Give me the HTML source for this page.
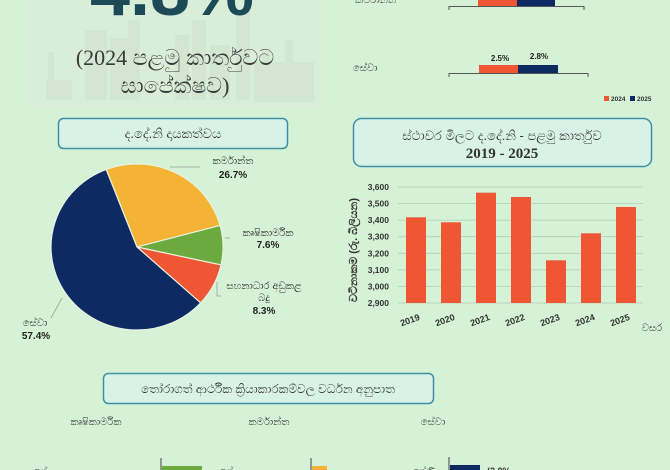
<!DOCTYPE html>
<html>
<head>
<meta charset="utf-8">
<style>
  html,body{margin:0;padding:0;background:#d5f2d7;}
  body{width:670px;height:470px;overflow:hidden;position:relative;}
  svg{display:block;}
  .si{font-family:"Liberation Sans","DejaVu Sans",sans-serif;}
</style>
</head>
<body>
<svg width="670" height="470" viewBox="0 0 670 470" xmlns="http://www.w3.org/2000/svg">
  <rect x="0" y="0" width="670" height="470" fill="#d5f2d7"/>

  <!-- top-left card -->
  <rect x="27" y="-12" width="296" height="120" rx="9" fill="#d9eed9"/>
  <!-- skyline watermark -->
  <g fill="#c9dcca" opacity="0.4">
    <rect x="48" y="52" width="6" height="48"/>
    <rect x="46" y="80" width="26" height="20"/>
    <rect x="85" y="30" width="22" height="70"/>
    <rect x="110" y="38" width="18" height="62"/>
    <rect x="128" y="20" width="12" height="80"/>
    <rect x="175" y="35" width="14" height="65"/>
    <rect x="192" y="20" width="14" height="80"/>
    <rect x="210" y="45" width="20" height="55"/>
    <rect x="236" y="10" width="14" height="90"/>
    <rect x="254" y="62" width="60" height="40"/>
    <rect x="262" y="48" width="8" height="16"/>
    <rect x="285" y="40" width="8" height="24"/>
  </g>
  <text x="172" y="15" text-anchor="middle" font-family="Liberation Sans, sans-serif" font-weight="bold" font-size="72" fill="#1d4a57">4.8%</text>
  <text x="175" y="65" text-anchor="middle" font-family="Liberation Serif, serif" font-size="22" fill="#3a3a3a">(2024 <tspan class="si">පළමු කාර්තුවට</tspan></text>
  <text x="175" y="93" text-anchor="middle" font-family="Liberation Serif, serif" font-size="22" fill="#3a3a3a"><tspan class="si">සාපේක්ෂව</tspan>)</text>

  <!-- top-right partial bar chart -->
  <text x="355" y="3" class="si" font-size="10" fill="#333">කර්මාන්ත</text>
  <rect x="478" y="-5" width="39" height="12" fill="#ee5634"/>
  <rect x="517" y="-5" width="38" height="12" fill="#0d2a63"/>
  <path d="M449 10 V6.5 H584 V10" fill="none" stroke="#555" stroke-width="1"/>

  <text x="353" y="71" class="si" font-size="10" fill="#333">සේවා</text>
  <text x="500" y="61" text-anchor="middle" font-family="Liberation Sans, sans-serif" font-weight="bold" font-size="8" fill="#222">2.5%</text>
  <text x="539" y="59" text-anchor="middle" font-family="Liberation Sans, sans-serif" font-weight="bold" font-size="8" fill="#222">2.8%</text>
  <rect x="479" y="65" width="39" height="8" fill="#ee5634"/>
  <rect x="518" y="65" width="40" height="8" fill="#0d2a63"/>
  <path d="M449 77 V73.5 H588 V77" fill="none" stroke="#555" stroke-width="1"/>

  <rect x="604" y="96" width="5" height="5" fill="#ee5634"/>
  <text x="611" y="101" font-family="Liberation Sans, sans-serif" font-weight="bold" font-size="6.5" fill="#333">2024</text>
  <rect x="630" y="96" width="5" height="5" fill="#0d2a63"/>
  <text x="637" y="101" font-family="Liberation Sans, sans-serif" font-weight="bold" font-size="6.5" fill="#333">2025</text>

  <!-- pie title box -->
  <rect x="58.5" y="118.5" width="229" height="30" rx="5" fill="#d8f2e6" stroke="#3d8fa6" stroke-width="1.5"/>
  <text x="173" y="138" text-anchor="middle" class="si" font-size="13" fill="#333">ද.දේ.නි දායකත්වය</text>

  <!-- pie -->
  <g transform="translate(137,247) scale(1,0.965)">
    <path d="M0 0 L-30.8 -80.3 A86 86 0 0 1 83.1 -22.3 Z" fill="#f5b335" stroke="#e8f3e0" stroke-width="1.2"/>
    <path d="M0 0 L83.1 -22.3 A86 86 0 0 1 84.0 18.6 Z" fill="#6aaa3f" stroke="#e8f3e0" stroke-width="1.2"/>
    <path d="M0 0 L84.0 18.6 A86 86 0 0 1 63.6 57.9 Z" fill="#ee5634" stroke="#e8f3e0" stroke-width="1.2"/>
    <path d="M0 0 L63.6 57.9 A86 86 0 1 1 -30.8 -80.3 Z" fill="#0d2a63" stroke="#e8f3e0" stroke-width="1.2"/>
  </g>
  <g stroke="#9aa39a" stroke-width="0.8" fill="none">
    <path d="M170 167 H200"/>
    <path d="M225 238 H230"/>
    <path d="M217 282 V296 H221"/>
    <path d="M51 318 L62 298"/>
  </g>
  <text x="233" y="164" text-anchor="middle" class="si" font-size="10" fill="#222">කර්මාන්ත</text>
  <text x="233" y="178" text-anchor="middle" font-family="Liberation Sans, sans-serif" font-weight="bold" font-size="10" fill="#222">26.7%</text>
  <text x="268" y="236" text-anchor="middle" class="si" font-size="10" fill="#222">කෘෂිකාර්මික</text>
  <text x="268" y="248" text-anchor="middle" font-family="Liberation Sans, sans-serif" font-weight="bold" font-size="10" fill="#222">7.6%</text>
  <text x="264" y="289" text-anchor="middle" class="si" font-size="10" fill="#222">සහනාධාර අඩුකළ</text>
  <text x="264" y="301" text-anchor="middle" class="si" font-size="10" fill="#222">බදු</text>
  <text x="264" y="314" text-anchor="middle" font-family="Liberation Sans, sans-serif" font-weight="bold" font-size="10" fill="#222">8.3%</text>
  <text x="35" y="326" text-anchor="middle" class="si" font-size="10" fill="#222">සේවා</text>
  <text x="36" y="339" text-anchor="middle" font-family="Liberation Sans, sans-serif" font-weight="bold" font-size="10" fill="#222">57.4%</text>

  <!-- bar chart title box -->
  <rect x="353.5" y="118.5" width="298" height="48" rx="8" fill="#d8f2e6" stroke="#3d8fa6" stroke-width="1.5"/>
  <text x="502" y="140" text-anchor="middle" class="si" font-size="13" fill="#333">ස්ථාවර මිලට ද.දේ.නි - පළමු කාර්තුව</text>
  <text x="502" y="158" text-anchor="middle" font-family="Liberation Serif, serif" font-weight="bold" font-size="15" fill="#333">2019 - 2025</text>

  <g stroke="#b8c9ba" stroke-width="0.8">
    <line x1="398" y1="187" x2="643" y2="187"/>
    <line x1="398" y1="203.6" x2="643" y2="203.6"/>
    <line x1="398" y1="220.1" x2="643" y2="220.1"/>
    <line x1="398" y1="236.7" x2="643" y2="236.7"/>
    <line x1="398" y1="253.3" x2="643" y2="253.3"/>
    <line x1="398" y1="269.9" x2="643" y2="269.9"/>
    <line x1="398" y1="286.4" x2="643" y2="286.4"/>
    <line x1="398" y1="303" x2="643" y2="303"/>
  </g>
  <g font-family="Liberation Sans, sans-serif" font-weight="bold" font-size="8.5" fill="#333" text-anchor="end">
    <text x="389" y="190">3,600</text>
    <text x="389" y="206.6">3,500</text>
    <text x="389" y="223.1">3,400</text>
    <text x="389" y="239.7">3,300</text>
    <text x="389" y="256.3">3,200</text>
    <text x="389" y="272.9">3,100</text>
    <text x="389" y="289.4">3,000</text>
    <text x="389" y="306">2,900</text>
  </g>
  <g fill="#ee5634">
    <rect x="406" y="217.3" width="20" height="85.7"/>
    <rect x="441" y="222.3" width="20" height="80.7"/>
    <rect x="476" y="192.7" width="20" height="110.3"/>
    <rect x="511" y="197" width="20" height="106"/>
    <rect x="546" y="260.3" width="20" height="42.7"/>
    <rect x="581" y="233.3" width="20" height="69.7"/>
    <rect x="616" y="207" width="20" height="96"/>
  </g>
  <g font-family="Liberation Sans, sans-serif" font-weight="bold" font-size="9" fill="#333" text-anchor="middle">
    <text transform="translate(411,323) rotate(-20)">2019</text>
    <text transform="translate(446,323) rotate(-20)">2020</text>
    <text transform="translate(481,323) rotate(-20)">2021</text>
    <text transform="translate(516,323) rotate(-20)">2022</text>
    <text transform="translate(551,323) rotate(-20)">2023</text>
    <text transform="translate(586,323) rotate(-20)">2024</text>
    <text transform="translate(621,323) rotate(-20)">2025</text>
  </g>
  <text x="652" y="331" text-anchor="middle" class="si" font-size="10" fill="#333">වසර</text>
  <text transform="translate(357,250) rotate(-90)" text-anchor="middle" class="si" font-weight="bold" font-size="11" fill="#333">වටිනාකම (රු. බිලියන)</text>

  <!-- bottom title box -->
  <rect x="103.5" y="373.5" width="330" height="30" rx="5" fill="#d8f2e6" stroke="#3d8fa6" stroke-width="1.5"/>
  <text x="268" y="393" text-anchor="middle" class="si" font-size="12" fill="#333">තෝරාගත් ආර්ථික ක්‍රියාකාරකම්වල වර්ධන අනුපාත</text>

  <text x="96" y="425" text-anchor="middle" class="si" font-size="10" fill="#333">කෘෂිකාර්මික</text>
  <text x="269" y="425" text-anchor="middle" class="si" font-size="10" fill="#333">කර්මාන්ත</text>
  <text x="433" y="425" text-anchor="middle" class="si" font-size="10" fill="#333">සේවා</text>

  <rect x="162" y="466" width="40" height="8" fill="#6aaa3f"/>
  <path d="M161 458 V470" stroke="#444" stroke-width="1"/>
  <rect x="312" y="466" width="15" height="8" fill="#f5b335"/>
  <path d="M311 458 V470" stroke="#444" stroke-width="1"/>
  <rect x="450" y="465" width="30" height="8" fill="#0d2a63"/>
  <path d="M449 457 V470" stroke="#444" stroke-width="1"/>
  <text x="34" y="474" class="si" font-size="9" fill="#333">ශ්‍රේ</text>
  <text x="220" y="474" class="si" font-size="9" fill="#333">ශ්‍රේ</text>
  <text x="413" y="474" class="si" font-size="9" fill="#333">ශ්‍රේණි</text>
  <text x="487" y="474" font-family="Liberation Sans, sans-serif" font-weight="bold" font-size="9" fill="#333">(2.0%</text>
</svg>
</body>
</html>
